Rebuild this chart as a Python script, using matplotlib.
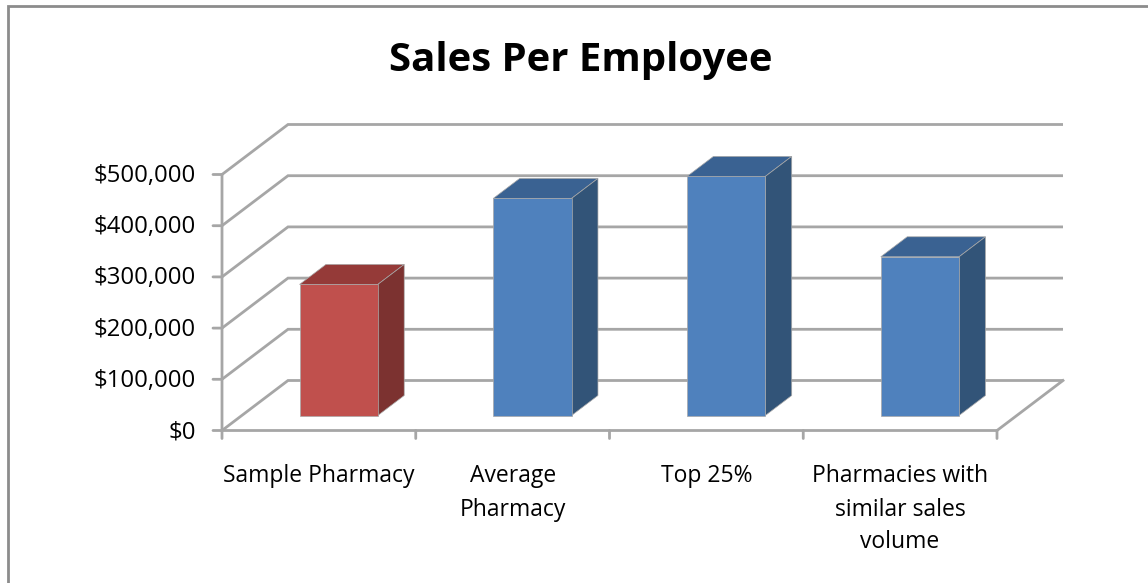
import matplotlib
matplotlib.use("Agg")
import matplotlib.pyplot as plt
from matplotlib.patches import Polygon, Rectangle

# Chart data
categories = ["Sample Pharmacy", "Average\nPharmacy", "Top 25%",
              "Pharmacies with\nsimilar sales\nvolume"]
sales_per_employee = [256000, 424000, 467000, 310000]
y_ticks = [0, 100000, 200000, 300000, 400000, 500000]
y_tick_labels = ["$0", "$100,000", "$200,000", "$300,000", "$400,000", "$500,000"]

W, H = 1148, 583
plt.rcParams["font.family"] = ["Open Sans", "DejaVu Sans"]
fig = plt.figure(figsize=(W / 100, H / 100), dpi=100, facecolor="white")

# Plot box: front edge of the floor, from $0 to $500,000
left, right, bottom, top = 222, 997, 430.5, 174.5
ax = fig.add_axes([left / W, 1 - bottom / H, (right - left) / W, (bottom - top) / H])
ax.set_xlim(0, 4)
ax.set_ylim(0, 500000)
ax.axis("off")

# Oblique projection: one unit of depth moves a point by this many data units
DEPTH_X = 66 / ((right - left) / 4)
DEPTH_Y = 50 / ((bottom - top) / 500000)


def project(x, y, depth):
    return x + depth * DEPTH_X, y + depth * DEPTH_Y


GRID = "#A6A6A6"
LW = 2.0

# Gridlines along the side wall and the back wall
for v in y_ticks:
    p0 = project(0, v, 0)
    p1 = project(0, v, 1)
    p2 = project(4, v, 1)
    ax.plot(*zip(p0, p1, p2), color=GRID, lw=LW, clip_on=False,
            solid_capstyle="butt", solid_joinstyle="miter", zorder=1)

# Front and right edges of the floor, and the vertical axis
ax.plot(*zip(project(0, 500000, 0), project(0, 0, 0), project(4, 0, 0), project(4, 0, 1)),
        color=GRID, lw=LW, clip_on=False, solid_joinstyle="miter", zorder=1)

# Tick marks
for v in y_ticks:
    ax.annotate("", xy=(0, v), xytext=(-9, 0), textcoords=("offset pixels"),
                arrowprops=dict(arrowstyle="-", color=GRID, lw=LW, shrinkA=0, shrinkB=0))
for i in range(5):
    ax.annotate("", xy=(i, 0), xytext=(0, -8), textcoords=("offset pixels"),
                arrowprops=dict(arrowstyle="-", color=GRID, lw=LW, shrinkA=0, shrinkB=0))

# Tick labels
for v, lab in zip(y_ticks, y_tick_labels):
    ax.annotate(lab, xy=(0, v), xytext=(-26, -1.5), textcoords="offset pixels",
                ha="right", va="center", fontsize=17.2, color="black")
for i, lab in enumerate(categories):
    ax.annotate(lab, xy=(i + 0.5, 0), xytext=(0, -34), textcoords="offset pixels",
                ha="center", va="top", fontsize=16.5, color="black", linespacing=1.5)

# Bars: front, top and side faces
BAR_W = 0.404
D_FRONT, D_BACK = 0.30, 0.70
STYLES = [("#C0504D", "#953A38", "#7C3230")] + [("#4F81BD", "#3A6292", "#325478")] * 3
EDGE = "#A8A8A8"
for i, (v, (front, top_c, side)) in enumerate(zip(sales_per_employee, STYLES)):
    x0 = i + 0.5 - BAR_W / 2
    x1 = i + 0.5 + BAR_W / 2
    faces = [
        ([project(x0, v, D_FRONT), project(x1, v, D_FRONT),
          project(x1, v, D_BACK), project(x0, v, D_BACK)], top_c),
        ([project(x1, 0, D_FRONT), project(x1, 0, D_BACK),
          project(x1, v, D_BACK), project(x1, v, D_FRONT)], side),
        ([project(x0, 0, D_FRONT), project(x1, 0, D_FRONT),
          project(x1, v, D_FRONT), project(x0, v, D_FRONT)], front),
    ]
    for pts, color in faces:
        ax.add_patch(Polygon(pts, closed=True, facecolor=color, edgecolor=EDGE,
                             lw=0.5, clip_on=False, zorder=3))

# Title
fig.text(580.5 / W, 1 - 70.7 / H, "Sales Per Employee", ha="center", va="baseline",
         fontsize=28.9, fontweight="bold", color="black")

# Outer chart frame
fig.add_artist(Rectangle((8 / W, -0.1), 1.2, 1 - 5.5 / H + 0.1, transform=fig.transFigure,
                         facecolor="none", edgecolor="#8C8C8C", lw=2.0))

fig.savefig("out.png", dpi=100)
